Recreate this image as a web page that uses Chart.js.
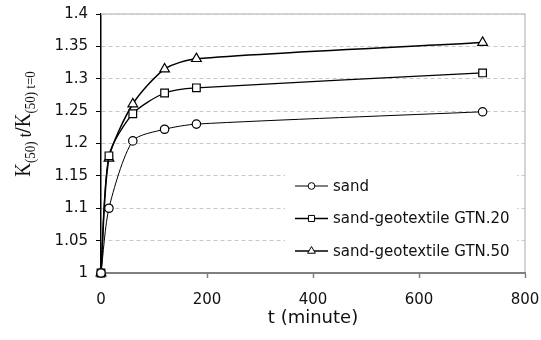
<!DOCTYPE html>
<html>
<head>
<meta charset="utf-8">
<script src="https://cdn.jsdelivr.net/npm/chart.js@4.4.1/dist/chart.umd.min.js"></script>
<style>
  body { margin: 0; background: #fff; }
  #caja { width: 541px; height: 340px; }
</style>
</head>
<body>
<div id="caja"><canvas id="grafico" width="541" height="340"></canvas></div>
<script>
// tiempos de medida (minutos)
const tiempos = [0, 15, 60, 120, 180, 720];

// K(50)t / K(50)t=0 para cada ensayo
const arena = [1, 1.100, 1.204, 1.222, 1.230, 1.249];
const gtn20 = [1, 1.181, 1.246, 1.278, 1.286, 1.309];
const gtn50 = [1, 1.177, 1.261, 1.315, 1.331, 1.356];

const etiquetas = ['sand', 'sand-geotextile GTN.20', 'sand-geotextile GTN.50'];
const marcadores = ['circle', 'rect', 'triangle'];

// marcas de los ejes
const ticksX = [0, 200, 400, 600, 800];
const ticksY = [1, 1.05, 1.1, 1.15, 1.2, 1.25, 1.3, 1.35, 1.4];

const puntos = serie => tiempos.map((t, i) => ({ x: t, y: serie[i] }));

const serieBase = (i, valores, grosor, radio) => ({
    label: etiquetas[i],
    data: puntos(valores),
    borderColor: '#000',
    borderWidth: grosor,
    pointStyle: marcadores[i],
    pointRadius: radio,
    pointBackgroundColor: '#fff',
    pointBorderColor: '#000',
    pointBorderWidth: 1.2,
    tension: 0.25,
    clip: false
});

// Plugin: borde superior/derecho, leyenda dentro del área y título del eje Y con subíndices
const extras = {
    id: 'extras',
    afterDraw(chart) {
        const { ctx, chartArea: a } = chart;
        ctx.save();

        // leyenda (fondo blanco que tapa la rejilla)
        const lx = 285, ly = 186, paso = 32.5;
        ctx.fillStyle = '#fff';
        ctx.fillRect(lx, ly - 16, 232, 96);

        // borde gris arriba y a la derecha
        ctx.strokeStyle = '#c8c8c8';
        ctx.lineWidth = 1.5;
        ctx.setLineDash([]);
        ctx.beginPath();
        ctx.moveTo(a.left, a.top);
        ctx.lineTo(a.right, a.top);
        ctx.lineTo(a.right, a.bottom - 1);
        ctx.stroke();

        chart.data.datasets.forEach((ds, i) => {
            const y = ly + i * paso;
            ctx.strokeStyle = '#000';
            ctx.lineWidth = ds.borderWidth;
            ctx.beginPath();
            ctx.moveTo(lx + 10, y);
            ctx.lineTo(lx + 43, y);
            ctx.stroke();
            ctx.fillStyle = '#fff';
            ctx.lineWidth = 1;
            Chart.helpers.drawPoint(ctx, {
                pointStyle: ds.pointStyle,
                radius: ds.pointRadius * 0.8,
                borderWidth: 1,
                rotation: 0
            }, lx + 26.5, y);
            ctx.fillStyle = '#111';
            ctx.font = '15px "DejaVu Sans"';
            ctx.textAlign = 'left';
            ctx.textBaseline = 'middle';
            ctx.fillText(ds.label, lx + 48, y + 1);
        });

        // título eje Y: K(50) t / K(50) t=0
        const partes = [
            { t: 'K', f: '19px "Liberation Serif"', dy: 0 },
            { t: '(50)', f: '13px "Liberation Serif"', dy: 4 },
            { t: ' t', f: '16px "Liberation Serif"', dy: 1 },
            { t: '/', f: 'bold 20px "Liberation Serif"', dy: 0 },
            { t: 'K', f: '19px "Liberation Serif"', dy: 0 },
            { t: '(50) t=0', f: '13px "Liberation Serif"', dy: 4 }
        ];
        let total = 0;
        partes.forEach(p => { ctx.font = p.f; p.w = ctx.measureText(p.t).width; total += p.w; });
        ctx.translate(30, 124);
        ctx.rotate(-Math.PI / 2);
        ctx.scale(1, 1.2);
        ctx.fillStyle = '#111';
        ctx.textAlign = 'left';
        ctx.textBaseline = 'alphabetic';
        let px = -total / 2;
        partes.forEach(p => {
            ctx.font = p.f;
            ctx.fillText(p.t, px, p.dy);
            px += p.w;
        });
        ctx.restore();
    }
};

const ctx = document.getElementById('grafico').getContext('2d');

new Chart(ctx, {
    type: 'line',
    data: {
        datasets: [
            serieBase(0, arena, 1, 4.2),
            serieBase(1, gtn20, 1.3, 5.4),
            serieBase(2, gtn50, 1.5, 5.6)
        ]
    },
    options: {
        responsive: false,
        animation: false,
        layout: { padding: { top: 14, right: 16, left: 0, bottom: 0 } },
        plugins: {
            legend: { display: false },
            tooltip: { enabled: false }
        },
        scales: {
            x: {
                type: 'linear',
                min: 0,
                max: 800,
                afterBuildTicks: s => { s.ticks = ticksX.map(v => ({ value: v })); },
                afterFit: s => { s.height = 67; s.paddingLeft = 0; s.paddingRight = 0; },
                grid: { drawOnChartArea: false, drawTicks: true, tickLength: 5, tickColor: '#808080', tickWidth: 1.5 },
                border: { color: '#808080', width: 2 },
                ticks: { font: { family: 'DejaVu Sans', size: 15 }, color: '#111', padding: 13, maxRotation: 0 },
                title: {
                    display: true,
                    text: 't (minute)',
                    font: { family: 'DejaVu Sans', size: 18 },
                    color: '#111',
                    padding: { top: 0, bottom: 11 }
                }
            },
            y: {
                min: 1,
                max: 1.4,
                afterBuildTicks: s => { s.ticks = ticksY.map(v => ({ value: v })); },
                afterFit: s => { s.width = 101; s.paddingTop = 0; s.paddingBottom = 0; },
                grid: { color: '#c8c8c8', lineWidth: 1, tickColor: '#000', tickLength: 5, tickWidth: 1 },
                border: { color: '#000', width: 1.5, dash: [4, 3] },
                ticks: {
                    font: { family: 'DejaVu Sans', size: 15 },
                    color: '#111',
                    padding: 8,
                    callback: v => String(v)
                }
            }
        }
    },
    plugins: [extras]
});
</script>
</body>
</html>
